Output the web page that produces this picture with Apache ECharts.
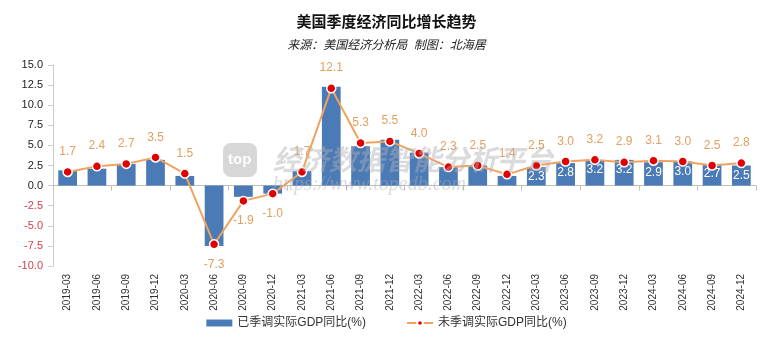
<!DOCTYPE html>
<html><head><meta charset="utf-8">
<script src="https://cdn.jsdelivr.net/npm/echarts@6/dist/echarts.min.js"></script>
<style>html,body{margin:0;padding:0;background:#fff}#c{width:773px;height:340px}</style>
</head><body><div id="c"></div>
<script>
const categories = ['2019-03','2019-06','2019-09','2019-12','2020-03','2020-06','2020-09','2020-12','2021-03','2021-06','2021-09','2021-12','2022-03','2022-06','2022-09','2022-12','2023-03','2023-06','2023-09','2023-12','2024-03','2024-06','2024-09','2024-12'];
const saValues = [1.9, 2.1, 2.7, 3.2, 1.2, -7.5, -1.4, -1.0, 1.8, 12.3, 4.9, 5.7, 4.1, 2.3, 2.5, 1.2, 2.3, 2.8, 3.2, 3.2, 2.9, 3.0, 2.7, 2.5];
const nsaValues = [1.7, 2.4, 2.7, 3.5, 1.5, -7.3, -1.9, -1.0, 1.7, 12.1, 5.3, 5.5, 4.0, 2.3, 2.5, 1.4, 2.5, 3.0, 3.2, 2.9, 3.1, 3.0, 2.5, 2.8];
const barLabelFrom = 16;
const seriesNames = ['已季调实际GDP同比(%)', '未季调实际GDP同比(%)'];
const titleText = '美国季度经济同比增长趋势';
const subText = '来源：美国经济分析局  制图：北海居';

const FONT = '"Liberation Sans", "Noto Sans CJK SC", sans-serif';
const chart = echarts.init(document.getElementById('c'));
chart.setOption({
  animation: false,
  textStyle: { fontFamily: FONT },
  title: {
    text: titleText, subtext: subText, left: 'center', top: 10, itemGap: 10,
    textStyle: { fontSize: 15, fontWeight: 'bold', color: '#111', fontFamily: FONT },
    subtextStyle: { fontSize: 12, fontStyle: 'italic', color: '#222', fontFamily: FONT }
  },
  legend: {
    bottom: 6, left: 'center', itemGap: 40, itemWidth: 26, itemHeight: 7,
    textStyle: { fontSize: 12, color: '#333', fontFamily: FONT },
    data: [{ name: seriesNames[0], icon: 'rect' }, { name: seriesNames[1] }]
  },
  grid: { left: 53, right: 17, top: 65, bottom: 74 },
  xAxis: [{
    type: 'category', data: categories, position: 'bottom',
    axisLine: { onZero: true, lineStyle: { color: '#bfbfbf' } },
    axisTick: { show: true, alignWithLabel: false, lineStyle: { color: '#bfbfbf' } },
    axisLabel: { show: false }
  }, {
    type: 'category', data: categories, position: 'bottom',
    axisLine: { show: false }, axisTick: { show: false },
    axisLabel: { rotate: 90, fontSize: 10, color: '#333', margin: 8, interval: 0 }
  }],
  yAxis: {
    type: 'value', min: -10, max: 15, interval: 2.5,
    axisLine: { show: true, lineStyle: { color: '#c8ccd4' } },
    axisTick: { show: true, lineStyle: { color: '#c8ccd4' } },
    splitLine: { show: false },
    axisLabel: {
      fontSize: 11, margin: 10,
      formatter: v => v.toFixed(1),
      color: v => (v < 0 ? '#d0404e' : '#222')
    }
  },
  graphic: [
    { type: 'rect', left: 223, top: 143, shape: { width: 34, height: 34, r: 8 }, style: { fill: 'rgba(205,205,205,0.8)' }, z: 20 },
    { type: 'text', left: 228, top: 152, style: { text: 'top', fill: 'rgba(255,255,255,0.95)', font: 'bold 15px "Liberation Sans"' }, z: 21 },
    { type: 'text', left: 273, top: 145, style: { text: '经济数据智能分析平台', fill: 'rgba(175,175,180,0.45)', font: 'italic bold 28px "Noto Sans CJK SC"' }, z: 20 },
    { type: 'text', left: 273, top: 175, style: { text: 'https://www.topedb.com', fill: 'rgba(175,175,180,0.45)', font: 'italic 20px "Liberation Serif"' }, z: 20 }
  ],
  series: [{
    name: seriesNames[0], type: 'bar', data: saValues, barWidth: '64%',
    itemStyle: { color: '#4a7bb7' },
    label: {
      show: true, position: 'insideTop', color: '#fff', fontSize: 12, distance: 4,
      formatter: p => (p.dataIndex >= barLabelFrom ? p.value.toFixed(1) : '')
    },
    z: 2
  }, {
    name: seriesNames[1], type: 'line', data: nsaValues.map(v => ({
      value: v,
      label: { position: v < 0 ? 'bottom' : 'top' }
    })),
    symbol: 'circle', symbolSize: 9,
    lineStyle: { color: '#f0a35e', width: 2 },
    itemStyle: { color: '#e00000', borderColor: '#fff', borderWidth: 1.5 },
    label: { show: true, color: '#e0a060', fontSize: 12, distance: 9, formatter: p => p.value.toFixed(1) },
    z: 3
  }]
});
</script>
</body></html>
